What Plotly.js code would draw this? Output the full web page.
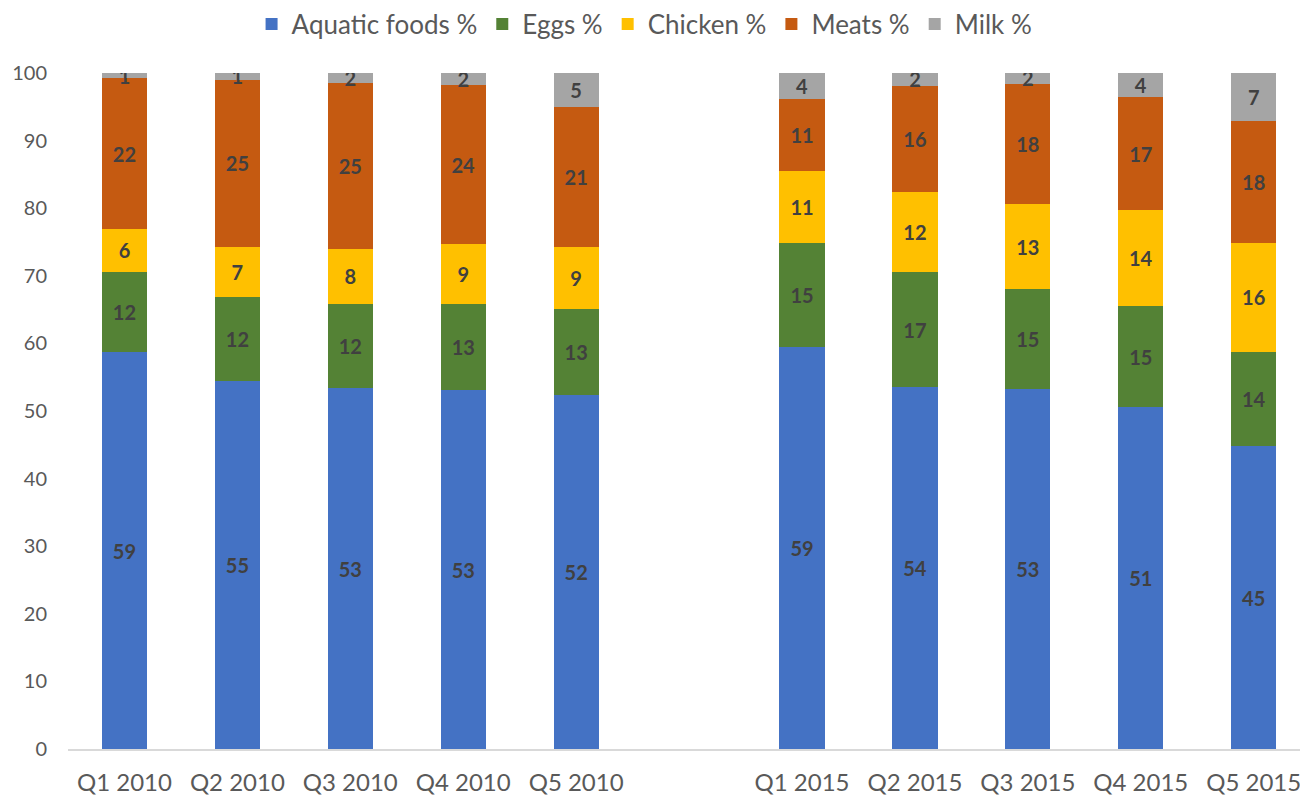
<!DOCTYPE html>
<html>
<head>
<meta charset="utf-8">
<script src="https://cdn.plot.ly/plotly-3.0.1.min.js"></script>
<style>html,body{margin:0;padding:0;background:#fff;}#chart{width:1300px;height:799px;}</style>
</head>
<body>
<div id="chart"></div>
<script>
// Categories (a blank spacer separates the 2010 and 2015 groups)
const categories = ['Q1 2010','Q2 2010','Q3 2010','Q4 2010','Q5 2010',' ','Q1 2015','Q2 2015','Q3 2015','Q4 2015','Q5 2015'];

// Series values (percent)
const aquaticFoods = [58.7, 54.5, 53.4, 53.1, 52.3, null, 59.4, 53.6, 53.2, 50.6, 44.8];
const eggs         = [11.9, 12.4, 12.4, 12.7, 12.8, null, 15.4, 16.9, 14.8, 14.9, 14.0];
const chicken      = [ 6.3,  7.4,  8.2,  8.9,  9.1, null, 10.7, 11.9, 12.6, 14.2, 16.0];
const meats        = [22.3, 24.7, 24.5, 23.5, 20.7, null, 10.6, 15.7, 17.8, 16.7, 18.1];
const milk         = [ 0.8,  1.0,  1.6,  1.8,  5.1, null,  3.9,  1.9,  1.6,  3.6,  7.1];

const seriesNames  = ['Aquatic foods %','Eggs %','Chicken %','Meats %','Milk %'];
const seriesValues = [aquaticFoods, eggs, chicken, meats, milk];
const seriesColors = ['#4472C4','#548235','#FFC000','#C55A11','#A5A5A5'];

const yTickVals = [0,10,20,30,40,50,60,70,80,90,100];

const FONT = 'Lato, "Open Sans", sans-serif';

const traces = seriesNames.map((name, i) => ({
  type: 'bar',
  name: name,
  x: categories,
  y: seriesValues[i],
  marker: {color: seriesColors[i], line: {width: 0}},
  texttemplate: '%{y:.0f}',
  textposition: 'inside',
  insidetextanchor: 'middle',
  textangle: 0,
  constraintext: 'none',
  insidetextfont: {family: FONT, size: 20, color: '#404040', weight: 'bold'},
  hoverinfo: 'x+y+name'
}));

const layout = {
  width: 1300,
  height: 799,
  barmode: 'stack',
  bargap: 0.6,
  paper_bgcolor: '#ffffff',
  plot_bgcolor: '#ffffff',
  margin: {l: 68, r: 0, t: 73, b: 50, pad: 0},
  font: {family: FONT, color: '#595959'},
  showlegend: true,
  legend: {
    orientation: 'h',
    x: 0.468, xanchor: 'center',
    y: 1.0725, yanchor: 'middle',
    font: {family: FONT, size: 26, color: '#595959'},
    traceorder: 'normal',
    itemclick: false
  },
  xaxis: {
    type: 'category',
    categoryorder: 'array',
    categoryarray: categories,
    range: [-0.5, 10.41],
    showgrid: false,
    zeroline: false,
    showline: true,
    linecolor: '#d9d9d9',
    linewidth: 1.5,
    ticks: '',
    ticklabelstandoff: 12,
    tickfont: {family: FONT, size: 24, color: '#595959'},
    fixedrange: true
  },
  yaxis: {
    range: [0, 100],
    tickvals: yTickVals,
    showgrid: false,
    zeroline: false,
    showline: false,
    ticks: '',
    ticklabelstandoff: 20,
    tickfont: {family: FONT, size: 20, color: '#595959'},
    fixedrange: true
  }
};

Plotly.newPlot('chart', traces, layout, {displayModeBar: false, staticPlot: true});
</script>
</body>
</html>
